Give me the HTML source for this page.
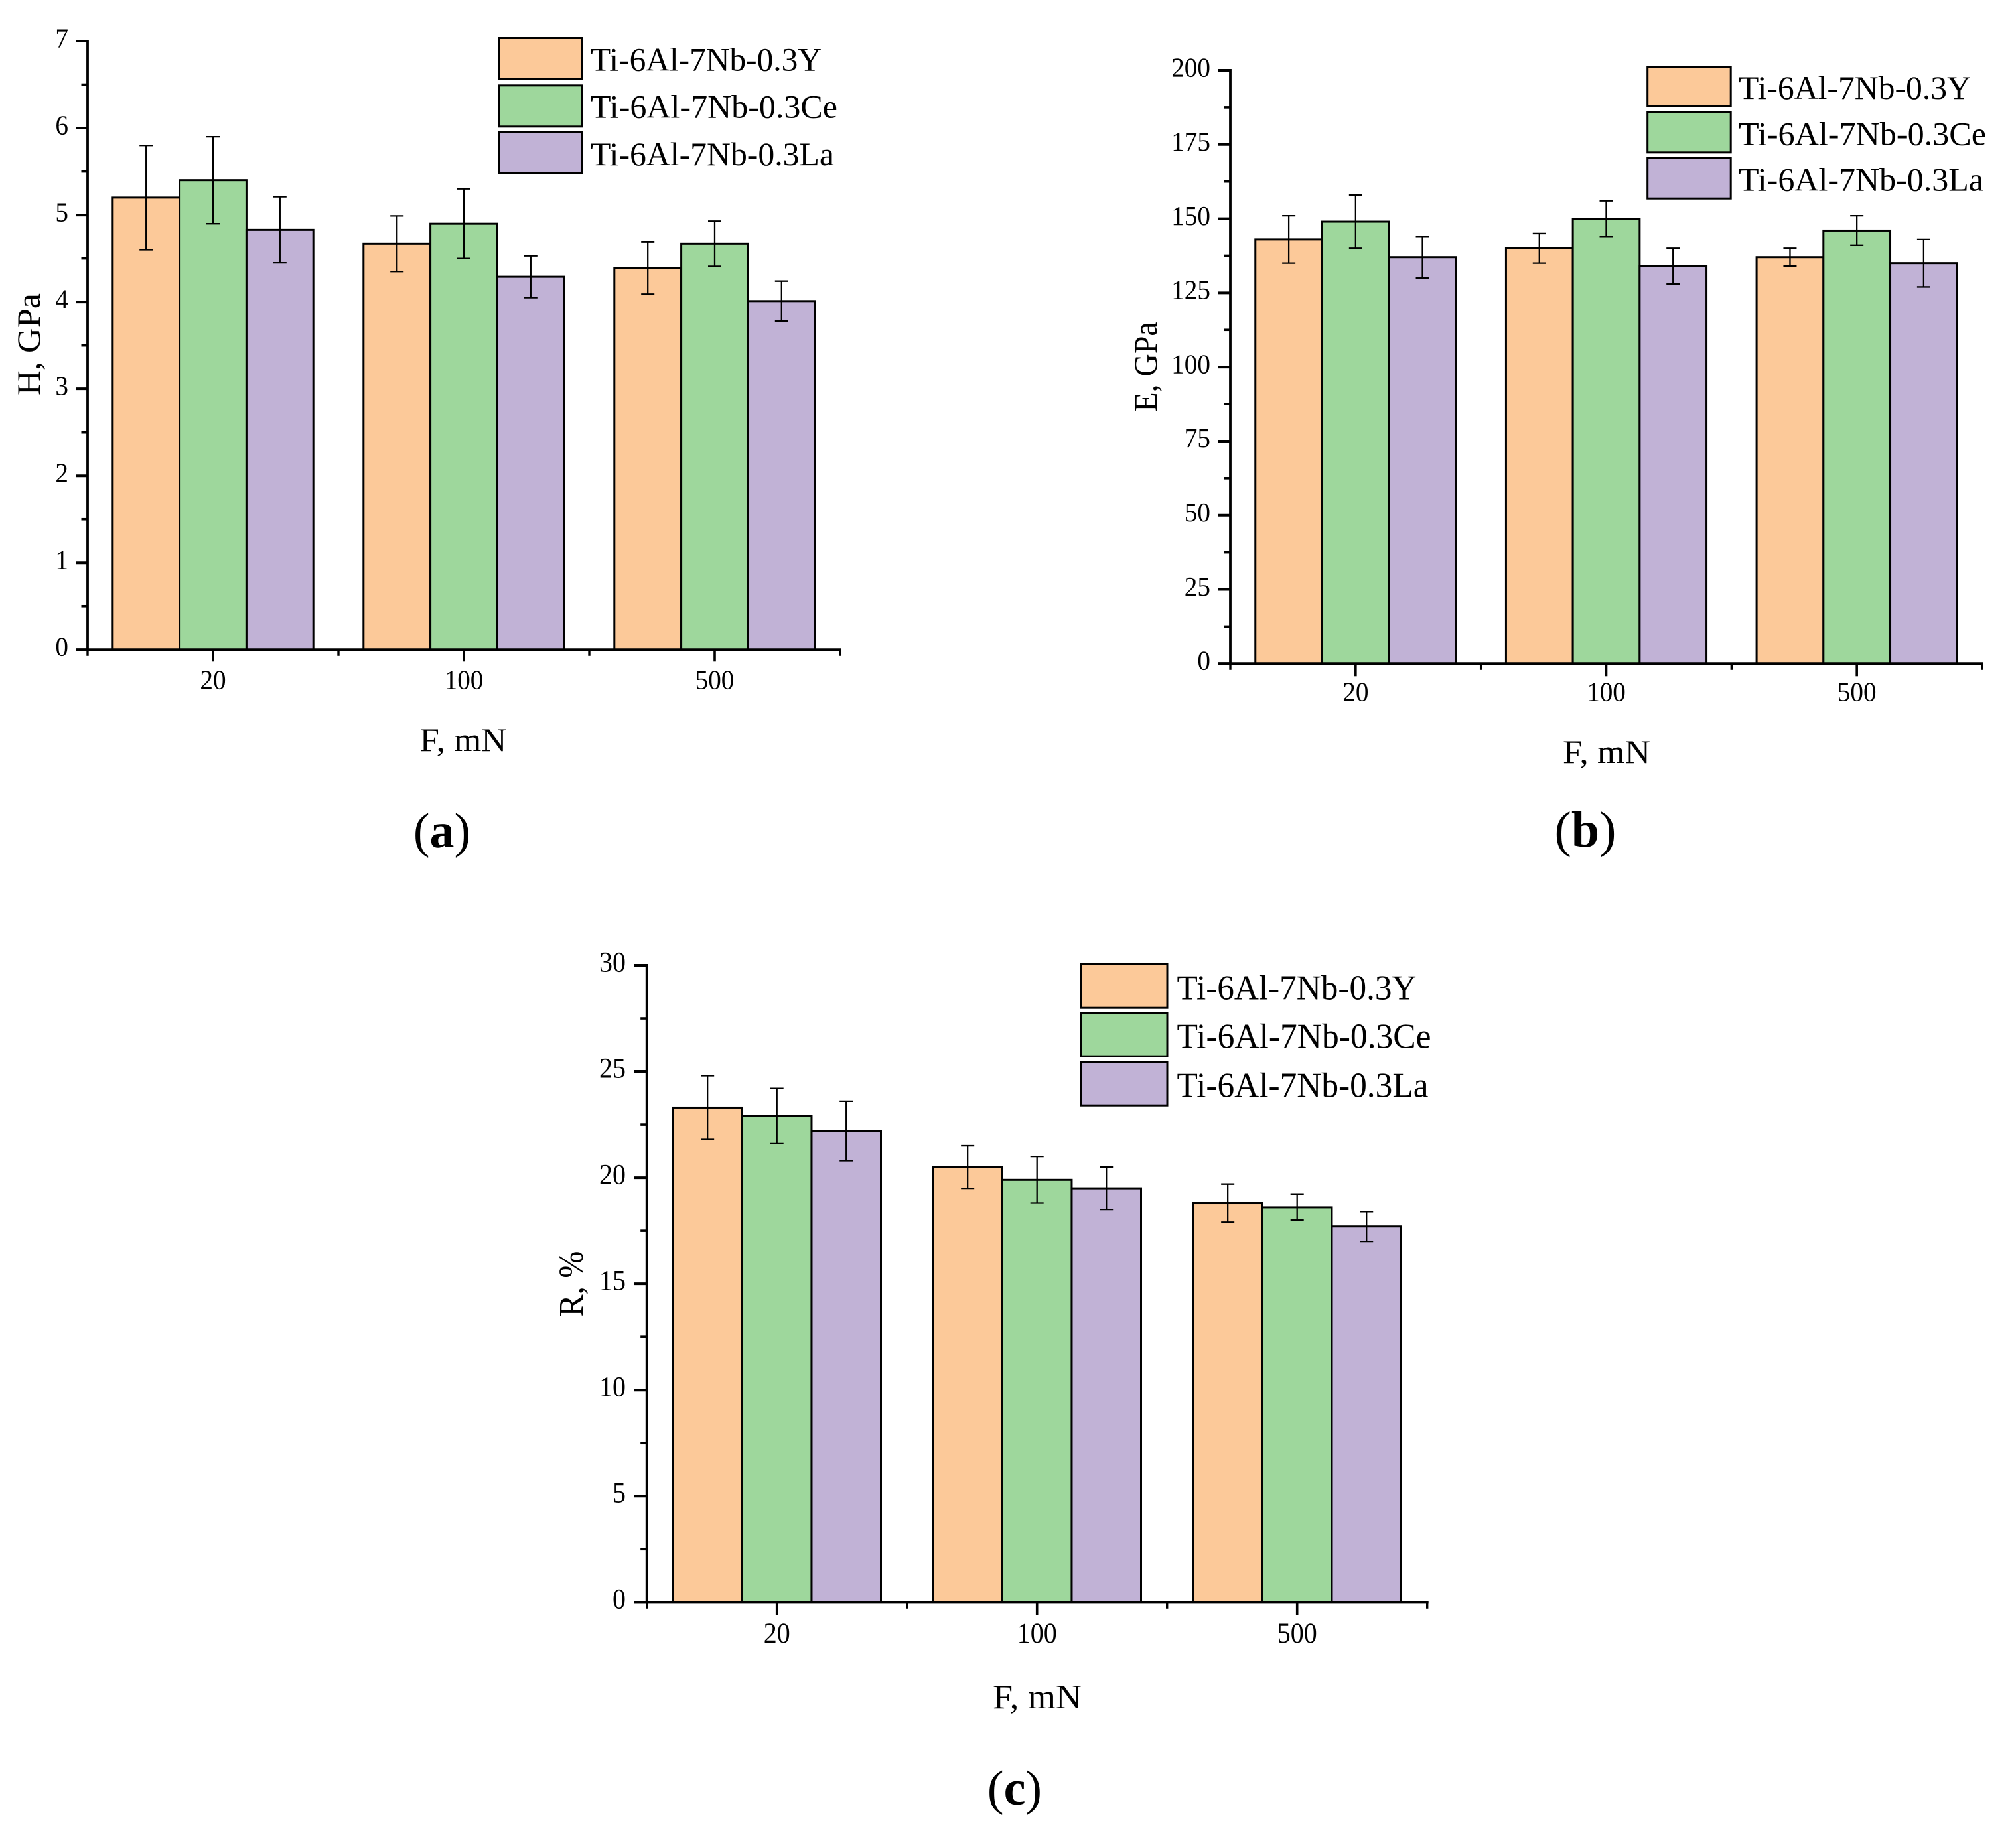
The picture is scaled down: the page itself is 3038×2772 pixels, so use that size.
<!DOCTYPE html>
<html lang="en">
<head>
<meta charset="utf-8">
<title>Ti-6Al-7Nb alloys: H, E and R versus load</title>
<style>
  html, body { margin: 0; padding: 0; background: #fff; }
  svg { display: block; }
  text { font-family: "Liberation Serif", "DejaVu Serif", serif; fill: #000; }
</style>
</head>
<body>
<svg id="figure" xmlns="http://www.w3.org/2000/svg" width="3038" height="2772" viewBox="0 0 3038 2772">
  <rect x="0" y="0" width="3038" height="2772" fill="#ffffff"/>

  <g id="panel-a"></g>
  <g id="panel-b"></g>
  <g id="panel-c"></g>

  <!-- Panel a text and legend -->
  <text transform="translate(60 519) rotate(-90)" text-anchor="middle" font-size="50" textLength="154" lengthAdjust="spacingAndGlyphs">H, GPa</text>
  <text x="698" y="1132" text-anchor="middle" font-size="50" textLength="131" lengthAdjust="spacingAndGlyphs">F, mN</text>
  <text x="666" y="1277" text-anchor="middle" font-size="74">(<tspan font-weight="bold">a</tspan>)</text>
  <g>
    <rect x="752" y="57.5" width="125.5" height="62" fill="#fcc999" stroke="#000" stroke-width="3"/>
    <text x="890" y="106.7" font-size="50" textLength="348" lengthAdjust="spacingAndGlyphs">Ti-6Al-7Nb-0.3Y</text>
    <rect x="752" y="128.8" width="125.5" height="62" fill="#9ed79c" stroke="#000" stroke-width="3"/>
    <text x="890" y="177.7" font-size="50" textLength="372" lengthAdjust="spacingAndGlyphs">Ti-6Al-7Nb-0.3Ce</text>
    <rect x="752" y="199.5" width="125.5" height="62" fill="#c1b2d6" stroke="#000" stroke-width="3"/>
    <text x="890" y="249" font-size="50" textLength="367" lengthAdjust="spacingAndGlyphs">Ti-6Al-7Nb-0.3La</text>
  </g>

  <!-- Panel b text and legend -->
  <text transform="translate(1743 553) rotate(-90)" text-anchor="middle" font-size="50" textLength="135" lengthAdjust="spacingAndGlyphs">E, GPa</text>
  <text x="2421" y="1150" text-anchor="middle" font-size="50" textLength="132" lengthAdjust="spacingAndGlyphs">F, mN</text>
  <text x="2389" y="1276" text-anchor="middle" font-size="76">(<tspan font-weight="bold">b</tspan>)</text>
  <g>
    <rect x="2482.7" y="100.8" width="125.5" height="59.7" fill="#fcc999" stroke="#000" stroke-width="3"/>
    <text x="2620" y="149" font-size="50" textLength="350" lengthAdjust="spacingAndGlyphs">Ti-6Al-7Nb-0.3Y</text>
    <rect x="2482.7" y="169.5" width="125.5" height="60.3" fill="#9ed79c" stroke="#000" stroke-width="3"/>
    <text x="2620" y="218.3" font-size="50" textLength="373" lengthAdjust="spacingAndGlyphs">Ti-6Al-7Nb-0.3Ce</text>
    <rect x="2482.7" y="238.5" width="125.5" height="60.7" fill="#c1b2d6" stroke="#000" stroke-width="3"/>
    <text x="2620" y="287.3" font-size="50" textLength="369" lengthAdjust="spacingAndGlyphs">Ti-6Al-7Nb-0.3La</text>
  </g>

  <!-- Panel c text and legend -->
  <text transform="translate(878 1935) rotate(-90)" text-anchor="middle" font-size="52" textLength="99" lengthAdjust="spacingAndGlyphs">R, %</text>
  <text x="1563" y="2575" text-anchor="middle" font-size="52" textLength="134" lengthAdjust="spacingAndGlyphs">F, mN</text>
  <text x="1529" y="2720" text-anchor="middle" font-size="74">(<tspan font-weight="bold">c</tspan>)</text>
  <g>
    <rect x="1629" y="1453.5" width="130" height="65.7" fill="#fcc999" stroke="#000" stroke-width="3"/>
    <text x="1773.5" y="1506.7" font-size="53" textLength="361" lengthAdjust="spacingAndGlyphs">Ti-6Al-7Nb-0.3Y</text>
    <rect x="1629" y="1527.5" width="130" height="64.7" fill="#9ed79c" stroke="#000" stroke-width="3"/>
    <text x="1773.5" y="1579.3" font-size="53" textLength="383" lengthAdjust="spacingAndGlyphs">Ti-6Al-7Nb-0.3Ce</text>
    <rect x="1629" y="1600.5" width="130" height="65.7" fill="#c1b2d6" stroke="#000" stroke-width="3"/>
    <text x="1773.5" y="1653.3" font-size="53" textLength="379" lengthAdjust="spacingAndGlyphs">Ti-6Al-7Nb-0.3La</text>
  </g>
</svg>

<script>
// Shared category labels and series names
const categories = ["20", "100", "500"];
const seriesNames = ["y", "ce", "la"];

// Panel a: hardness H, GPa
const hardnessY = [5.2, 4.67, 4.39];
const hardnessCe = [5.4, 4.9, 4.67];
const hardnessLa = [4.83, 4.29, 4.01];
const hardnessYErr = [0.6, 0.32, 0.3];
const hardnessCeErr = [0.5, 0.4, 0.26];
const hardnessLaErr = [0.38, 0.24, 0.23];
const hardnessTicks = [0, 1, 2, 3, 4, 5, 6, 7];

// Panel b: modulus E, GPa
const modulusY = [143, 140, 137];
const modulusCe = [149, 150, 146];
const modulusLa = [137, 134, 135];
const modulusYErr = [8, 5, 3];
const modulusCeErr = [9, 6, 5];
const modulusLaErr = [7, 6, 8];
const modulusTicks = [0, 25, 50, 75, 100, 125, 150, 175, 200];

// Panel c: recovery R, %
const recoveryY = [23.3, 20.5, 18.8];
const recoveryCe = [22.9, 19.9, 18.6];
const recoveryLa = [22.2, 19.5, 17.7];
const recoveryYErr = [1.5, 1.0, 0.9];
const recoveryCeErr = [1.3, 1.1, 0.6];
const recoveryLaErr = [1.4, 1.0, 0.7];
const recoveryTicks = [0, 5, 10, 15, 20, 25, 30];

const SVG_NS = "http://www.w3.org/2000/svg";
const seriesFills = ["#fcc999", "#9ed79c", "#c1b2d6"];

function add(parent, tag, attrs) {
  const el = document.createElementNS(SVG_NS, tag);
  for (const k in attrs) el.setAttribute(k, attrs[k]);
  parent.appendChild(el);
  return el;
}

function drawPanel(root, layout, values, errors, ticks) {
  const yMin = ticks[0];
  const yMax = ticks[ticks.length - 1];
  const yScale = v => layout.bottom - (v - yMin) / (yMax - yMin) * (layout.bottom - layout.top);
  const catWidth = (layout.right - layout.left) / categories.length;
  const catCenter = i => layout.left + catWidth * (i + 0.5);
  const barWidth = catWidth * 0.8 / values.length;
  const barLeft = (i, s) => catCenter(i) - barWidth * values.length / 2 + s * barWidth;

  // Bars
  values.forEach((series, s) => {
    series.forEach((v, i) => {
      const bar = add(root, "rect", {
        x: barLeft(i, s), y: yScale(v), width: barWidth, height: layout.bottom - yScale(v),
        fill: seriesFills[s], stroke: "#000", "stroke-width": 3
      });
      
      
    });
  });

  // Error bars
  values.forEach((series, s) => {
    series.forEach((v, i) => {
      const cx = barLeft(i, s) + barWidth / 2;
      const hi = yScale(v + errors[s][i]);
      const lo = yScale(v - errors[s][i]);
      const eb = add(root, "path", {
        d: "M" + (cx - 10) + " " + hi + "H" + (cx + 10) + "M" + cx + " " + hi + "V" + lo + "M" + (cx - 10) + " " + lo + "H" + (cx + 10),
        fill: "none", stroke: "#000", "stroke-width": 2.3
      });
      
      
    });
  });

  // Y axis
  const yAxis = add(root, "line", {
    x1: layout.left, x2: layout.left, y1: layout.top - 2, y2: layout.bottom,
    stroke: "#000", "stroke-width": 3.8
  });
  
  

  ticks.forEach((t, idx) => {
    const py = yScale(t);
    const tick = add(root, "line", {
      x1: layout.left - layout.major, x2: layout.left, y1: py, y2: py,
      stroke: "#000", "stroke-width": 4
    });
    
    

    const label = add(root, "text", {
      x: layout.left - layout.major - layout.labelGap, y: py + 9.3,
      "text-anchor": "end", "font-size": layout.tickFont,
      textLength: String(t).length * layout.digit, lengthAdjust: "spacingAndGlyphs"
    });
    label.textContent = String(t);
    
    

    if (idx < ticks.length - 1) {
      const my = yScale((t + ticks[idx + 1]) / 2);
      const minor = add(root, "line", {
        x1: layout.left - layout.minor, x2: layout.left, y1: my, y2: my,
        stroke: "#000", "stroke-width": 3.6
      });
      
      
    }
  });

  // X axis
  const xAxis = add(root, "line", {
    x1: layout.left - layout.major, x2: layout.right + 2, y1: layout.bottom, y2: layout.bottom,
    stroke: "#000", "stroke-width": 4.2
  });
  
  

  for (let i = 0; i <= categories.length; i++) {
    const px = layout.left + catWidth * i;
    const minor = add(root, "line", {
      x1: px, x2: px, y1: layout.bottom, y2: layout.bottom + layout.minor,
      stroke: "#000", "stroke-width": 3.4
    });
    
    
  }

  categories.forEach((c, i) => {
    const px = catCenter(i);
    const tick = add(root, "line", {
      x1: px, x2: px, y1: layout.bottom, y2: layout.bottom + layout.major,
      stroke: "#000", "stroke-width": 3.6
    });
    
    

    const label = add(root, "text", {
      x: px, y: layout.bottom + layout.xLabelDrop,
      "text-anchor": "middle", "font-size": layout.tickFont,
      textLength: c.length * layout.digit, lengthAdjust: "spacingAndGlyphs"
    });
    label.textContent = c;
    
    
  });
}

drawPanel(document.getElementById("panel-a"),
  { left: 132, right: 1266, top: 62, bottom: 979.3, major: 18, minor: 9.5, labelGap: 11, tickFont: 41, digit: 19.6, xLabelDrop: 59 },
  [hardnessY, hardnessCe, hardnessLa],
  [hardnessYErr, hardnessCeErr, hardnessLaErr],
  hardnessTicks);

drawPanel(document.getElementById("panel-b"),
  { left: 1854, right: 2987, top: 106, bottom: 1000.3, major: 19, minor: 9.5, labelGap: 11, tickFont: 41, digit: 19.6, xLabelDrop: 56.4 },
  [modulusY, modulusCe, modulusLa],
  [modulusYErr, modulusCeErr, modulusLaErr],
  modulusTicks);

drawPanel(document.getElementById("panel-c"),
  { left: 974.7, right: 2150.7, top: 1455, bottom: 2415.3, major: 18.7, minor: 9.5, labelGap: 13, tickFont: 43, digit: 20, xLabelDrop: 60.7 },
  [recoveryY, recoveryCe, recoveryLa],
  [recoveryYErr, recoveryCeErr, recoveryLaErr],
  recoveryTicks);
</script>
</body>
</html>
